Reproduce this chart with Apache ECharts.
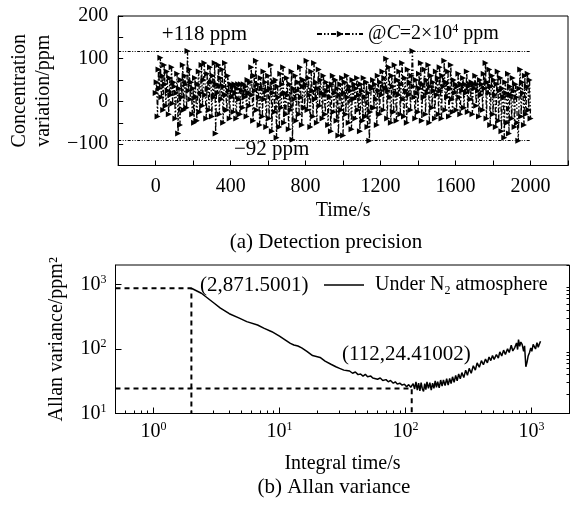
<!DOCTYPE html>
<html><head><meta charset="utf-8">
<script src="https://cdn.jsdelivr.net/npm/echarts@6/dist/echarts.min.js"></script>
<style>html,body{margin:0;padding:0;background:#fff}#c{width:578px;height:509px}</style>
</head><body><div id="c"></div>
<script>
const FONT = "'Liberation Serif','Times New Roman',serif";

// ---------- (a) Detection precision ----------
const timeStep = 5; // s between samples
const concentration = [
  20, 45, -35, 75, 30, 102, 10, 60, -20, 85, 40, -10, 70, 25, -30, 55, 15, 80, -5, 45,
  35, -40, 20, 65, -75, 30, -55, 50, 10, 85, -20, 60, 40, -15, 118, 25, 75, 5, 45, -30,
  30, -50, 55, 10, -45, 40, 70, -25, 20, 85, -10, 50, 90, 15, -40, 65, 30, -20, 80, 45,
  -35, 60, 10, 90, -75, 40, 20, 85, -30, 55, 5, 75, -50, 35, 90, 15, -20, 60, 25, -40,
  40, 10, 35, -25, 40, 20, -40, 30, 40, 5, -30, 40, 25, -15, 40, 10, 35, -35, 50, 20,
  -10, 45, 80, 15, -45, 60, 25, 95, -20, 40, 10, -55, 55, 30, -35, 70, 5, 45, -60, 25,
  60, -40, 30, 85, -70, 20, 45, -25, 50, -85, 35, 10, -60, 65, -15, 40, 80, -50, 20, -30,
  55, 15, -65, 40, -20, 70, -90, 30, 5, 60, -45, 25, 45, -30, 80, 10, -55, 35, 50, -15,
  40, 95, -20, 55, 15, -60, 70, 25, -35, 90, 5, 45, -50, 30, 75, -10, 50, 20, -40, 60,
  15, -30, 45, 25, -55, 35, 10, -70, 40, 60, -25, 20, 50, -45, 30, -80, 15, 40, -20, 55,
  -80, 20, 45, -30, 60, 10, -50, 35, 25, -65, 50, 5, 40, -40, 30, 55, -20, 15, -70, 40,
  25, -45, 55, 10, -35, 45, -60, 20, -92, -25, 35, 30, 50, -15, 40, 5, -55, 60, 25, -30,
  45, 15, 70, -20, 55, 30, 100, -40, 25, 80, 10, -50, 60, 35, -25, 85, 20, -45, 50, 15,
  70, -30, 40, 90, 5, -35, 55, 25, -50, 75, 15, 45, -20, 60, 118, 35, 10, -40, 50, 20,
  -25, 65, 30, 90, -45, 40, 10, 75, -30, 50, 20, 85, -50, 35, 60, -15, 45, 25, -40, 70,
  15, 55, -30, 80, 25, -40, 60, 35, 95, -20, 45, 10, 70, -35, 30, 85, 5, -25, 50, 20,
  40, -20, 35, 65, 10, -30, 40, 25, 55, -15, 40, 20, 70, -25, 35, 40, 5, 45, -30, 40,
  30, 60, -10, 40, 25, -35, 50, 15, 40, -20, 65, 30, 90, -40, 45, 20, 75, -55, 35, 60,
  -30, 50, 15, -60, 40, 70, -45, 25, 55, -70, 30, 10, -85, 45, 20, -50, 65, -75, 35, 15,
  -40, 55, 25, -60, 40, 10, -50, -92, 30, 75, -35, 45, 20, -55, 60, -30, 35, 65, -20, 50,
  -40
];
const limitHigh = 118;
const limitLow = -92;
const topXLabels = [0, 400, 800, 1200, 1600, 2000];
const topYLabels = [200, 100, 0, -100];

// ---------- (b) Allan variance ----------
const allanTau = [
  2, 2.4, 3, 3.4, 4, 4.8, 5.5, 6.7, 7.5, 8.7, 10, 11, 12.2, 13, 14, 15, 16.5, 18.3, 21, 23,
  25.6, 28, 30, 32.4, 34, 36, 38, 40, 42, 44, 46, 48, 50, 53, 55, 57, 60, 63, 66, 70,
  73, 76, 80, 83, 86, 90, 94, 98, 102, 106, 110, 112, 115, 118, 121, 124, 127, 130, 133, 136,
  139, 142, 145, 148, 152, 156, 160, 164, 168, 172, 176, 180, 185, 190, 195, 200, 206, 212, 218, 224,
  230, 236, 243, 250, 257, 264, 272, 280, 290, 300, 310, 320, 332, 345, 358, 370, 385, 400, 415, 431,
  446, 460, 475, 490, 505, 526, 545, 560, 580, 600, 620, 645, 665, 690, 710, 737, 760, 775, 788, 805,
  822, 842, 865, 880, 901, 920, 940, 964, 985, 1005, 1030, 1054, 1075, 1104, 1130, 1155, 1178
];
const allanVar = [
  871.5, 730, 520, 430, 352, 300, 265, 235, 210, 185, 158, 140, 122, 115, 111, 104, 92, 79, 74, 65,
  58, 53, 50, 47, 46.5, 45.6, 42, 44, 40, 41, 38, 40.5, 37.2, 38, 35.5, 37, 34, 35.5, 32.5, 33.5,
  31, 32.5, 29.5, 31, 28.5, 29.5, 27.5, 28.5, 26, 28, 25.5, 24.41, 29, 24, 31, 23, 29.5, 22.5, 30, 24,
  22, 29, 23.5, 31, 24.5, 30, 23, 29.5, 24.5, 32, 25.5, 31, 25, 33, 26.5, 33, 27, 34.5, 27.5, 35,
  29, 37, 30.5, 39, 32, 41, 34.5, 43, 36, 47, 39, 50, 42, 55, 47, 61, 52, 66, 57, 70,
  61, 75, 66, 79, 69, 82, 72, 90, 78, 96, 82, 101, 88, 114, 93, 106, 124, 98, 140, 110,
  128, 118, 92, 112, 53, 62, 78, 88, 104, 92, 118, 124, 100, 125, 106, 120, 132
];
const minPoint = [2, 871.5001];
const optPoint = [112, 24.41002];
const logLabels = [1, 10, 100, 1000];
const xMinorTicks = [0.6, 0.7, 0.8, 0.9, 2, 3, 4, 5, 6, 7, 8, 9, 20, 30, 40, 50, 60, 70, 80, 90,
  200, 300, 400, 500, 600, 700, 800, 900, 2000];
const yMinorTicks = [20, 30, 40, 50, 60, 70, 80, 90, 200, 300, 400, 500, 600, 700, 800, 900, 2000];

const topName = '@C=2x10^4 ppm';
const botName = 'Under N2 atmosphere';

const txt = { fontFamily: FONT, color: '#000' };
const supRich = { sup: { fontFamily: FONT, fontSize: 12, lineHeight: 12, verticalAlign: 'top', color: '#000' } };
const minus = s => String(s).replace('-', '\u2212');
const pow10 = v => '10{sup|' + Math.round(Math.log10(v)) + '}';
const annLabel = Object.assign({ show: true, position: 'inside', textBorderWidth: 0, textBorderColor: 'transparent', opacity: 1 }, txt, { fontSize: 21 });

const chart = echarts.init(document.getElementById('c'), null, { renderer: 'canvas' });
chart.setOption({
  animation: false,
  backgroundColor: '#fff',
  grid: [
    { left: 114, top: 16, width: 454, height: 149.5, show: true, borderColor: '#000', borderWidth: 1, backgroundColor: 'transparent' },
    { left: 115.5, top: 265, width: 454, height: 148.5, show: true, borderColor: '#000', borderWidth: 1, backgroundColor: 'transparent' }
  ],
  legend: [
    {
      data: [topName], left: 316, top: 23, padding: 0, itemWidth: 46, itemHeight: 8,
      formatter: () => '@{it|C}=2\u00d710{sup|4} ppm',
      textStyle: Object.assign({}, txt, { fontSize: 20, lineHeight: 22,
        rich: Object.assign({ it: { fontFamily: FONT, fontStyle: 'italic', fontSize: 20, lineHeight: 22, color: '#000' } }, supRich) })
    },
    {
      data: [botName], left: 324, top: 273, padding: 0, itemWidth: 40, itemHeight: 1.5, icon: 'rect',
      formatter: () => 'Under N{sub|2} atmosphere',
      textStyle: Object.assign({}, txt, { fontSize: 20, lineHeight: 24, padding: [0, 0, 0, 6],
        rich: { sub: { fontFamily: FONT, fontSize: 12, lineHeight: 12, verticalAlign: 'bottom', color: '#000' } } })
    }
  ],
  xAxis: [
    {
      gridIndex: 0, type: 'value', min: -200, max: 2200, interval: 200,
      name: 'Time/s', nameLocation: 'middle', nameGap: 35,
      nameTextStyle: Object.assign({}, txt, { fontSize: 20 }),
      axisLine: { onZero: false, lineStyle: { color: '#000', width: 1 } },
      axisTick: { inside: true, length: 5, lineStyle: { color: '#000' } },
      axisLabel: Object.assign({}, txt, { fontSize: 20, margin: 11, formatter: v => topXLabels.includes(v) ? String(v) : '' }),
      splitLine: { show: false }
    },
    {
      gridIndex: 1, type: 'log', min: 0.5, max: 2000, position: 'bottom',
      name: 'Integral time/s', nameLocation: 'middle', nameGap: 40,
      nameTextStyle: Object.assign({}, txt, { fontSize: 20 }),
      axisLine: { onZero: false, lineStyle: { color: '#000', width: 1 } },
      axisTick: { inside: true, length: 6, customValues: logLabels, lineStyle: { color: '#000' } },
      axisLabel: Object.assign({}, txt, { fontSize: 20, lineHeight: 22, margin: 7, customValues: logLabels, formatter: pow10, rich: supRich }),
      splitLine: { show: false }, minorTick: { show: false }
    },
    {
      gridIndex: 1, type: 'log', min: 0.5, max: 2000, position: 'bottom',
      axisLine: { show: false, onZero: false },
      axisTick: { inside: true, length: 3, customValues: xMinorTicks, lineStyle: { color: '#000' } },
      axisLabel: { show: false }, splitLine: { show: false }
    }
  ],
  yAxis: [
    {
      gridIndex: 0, type: 'value', min: -150, max: 200, interval: 50,
      name: 'Concentration\nvariation/ppm', nameLocation: 'middle', nameGap: 50, nameRotate: 90,
      nameTextStyle: Object.assign({}, txt, { fontSize: 20, lineHeight: 24 }),
      axisLine: { onZero: false, lineStyle: { color: '#000', width: 1 } },
      axisTick: { inside: true, length: 5, lineStyle: { color: '#000' } },
      axisLabel: Object.assign({}, txt, { fontSize: 20, margin: 10, formatter: v => topYLabels.includes(v) ? minus(v) : '' }),
      splitLine: { show: false }
    },
    {
      gridIndex: 1, type: 'log', min: 10, max: 2000,
      name: 'Allan variance/ppm\u00b2', nameLocation: 'middle', nameGap: 49, nameRotate: 90,
      nameTextStyle: Object.assign({}, txt, { fontSize: 20 }),
      axisLine: { onZero: false, lineStyle: { color: '#000', width: 1 } },
      axisTick: { inside: true, length: 6, customValues: logLabels.slice(1), lineStyle: { color: '#000' } },
      axisLabel: Object.assign({}, txt, { fontSize: 20, lineHeight: 22, margin: 9, customValues: logLabels.slice(1), formatter: pow10, rich: supRich }),
      splitLine: { show: false }
    },
    {
      gridIndex: 1, type: 'log', min: 10, max: 2000,
      axisLine: { show: false, onZero: false },
      axisTick: { inside: true, length: 3, customValues: yMinorTicks, lineStyle: { color: '#000' } },
      axisLabel: { show: false }, splitLine: { show: false }
    }
  ],
  series: [
    {
      type: 'line', name: topName, xAxisIndex: 0, yAxisIndex: 0,
      data: concentration.map((v, i) => [i * timeStep, v]),
      symbol: 'triangle', symbolSize: 6, symbolRotate: -90, showAllSymbol: true,
      itemStyle: { color: '#000' },
      lineStyle: { color: '#000', width: 1.3, type: [5, 2, 1.5, 2, 1.5, 2] },
      markLine: {
        silent: true, symbol: ['none', 'none'], label: { show: false },
        lineStyle: { color: '#000', width: 1, type: [3, 1.5, 1, 1.5, 1, 1.5] },
        data: [
          [{ coord: [-200, limitHigh] }, { coord: [2000, limitHigh] }],
          [{ coord: [-200, limitLow] }, { coord: [2000, limitLow] }]
        ]
      },
      z: 3
    },
    {
      type: 'scatter', xAxisIndex: 0, yAxisIndex: 0, symbolSize: 0.1, silent: true,
      itemStyle: { color: '#fff' }, label: annLabel,
      data: [
        { value: [260, 157], label: { formatter: '+' + limitHigh + ' ppm' } },
        { value: [619, -112], label: { formatter: minus(limitLow) + ' ppm' } }
      ]
    },
    {
      type: 'line', name: botName, xAxisIndex: 1, yAxisIndex: 1,
      data: allanTau.map((t, i) => [t, allanVar[i]]),
      symbol: 'none', lineStyle: { color: '#000', width: 1.5 }, itemStyle: { color: '#000' }, z: 3
    },
    {
      type: 'line', xAxisIndex: 1, yAxisIndex: 1, symbol: 'none', silent: true,
      lineStyle: { color: '#000', width: 2, type: [5, 4] },
      data: [[0.5, minPoint[1]], [minPoint[0], minPoint[1]], [minPoint[0], 10]]
    },
    {
      type: 'line', xAxisIndex: 1, yAxisIndex: 1, symbol: 'none', silent: true,
      lineStyle: { color: '#000', width: 2, type: [5, 4] },
      data: [[0.5, optPoint[1]], [optPoint[0], optPoint[1]], [optPoint[0], 10]]
    },
    {
      type: 'scatter', xAxisIndex: 1, yAxisIndex: 1, symbolSize: 0.1, silent: true,
      itemStyle: { color: '#fff' }, label: Object.assign({}, annLabel, { align: 'left' }),
      data: [
        { value: [2.34, 980], label: { formatter: '(' + minPoint[0] + ',' + minPoint[1] + ')' } },
        { value: [31.4, 83], label: { formatter: '(' + optPoint[0] + ',' + optPoint[1] + ')' } }
      ]
    }
  ],
  graphic: [
    { type: 'text', style: { text: '(a) Detection precision', x: 326, y: 242, align: 'center', verticalAlign: 'middle', font: '21px ' + FONT, fill: '#000' } },
    { type: 'text', style: { text: '(b) Allan variance', x: 334, y: 487, align: 'center', verticalAlign: 'middle', font: '21px ' + FONT, fill: '#000' } }
  ]
});
</script></body></html>
